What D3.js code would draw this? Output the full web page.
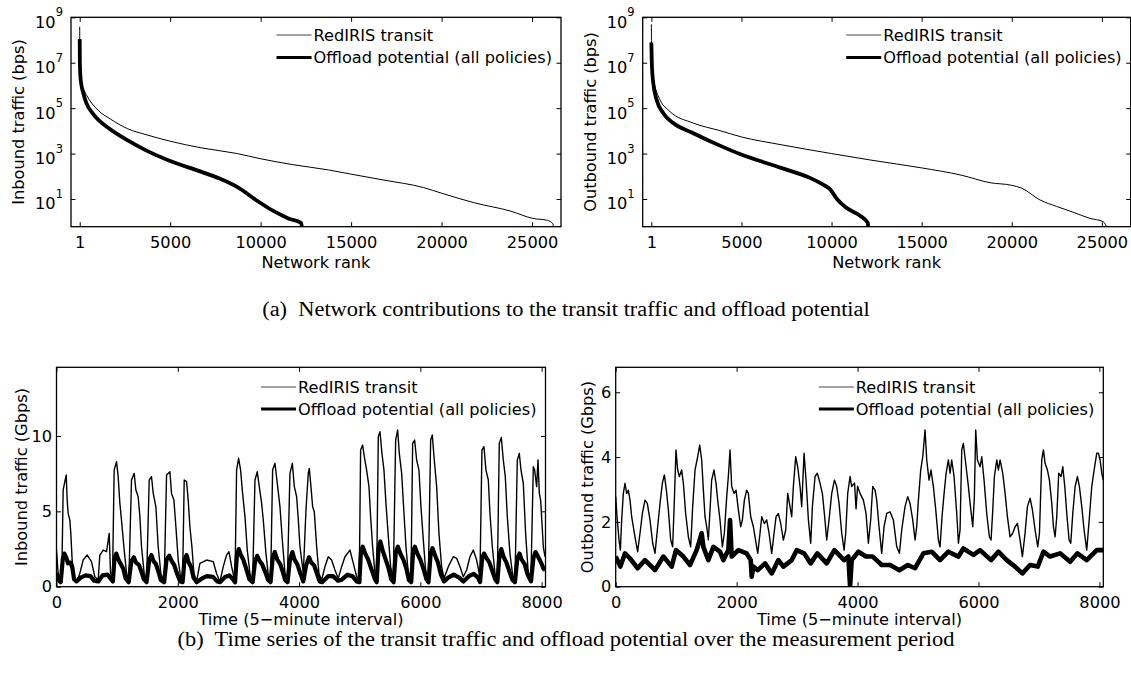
<!DOCTYPE html>
<html>
<head>
<meta charset="utf-8">
<script src="https://cdn.jsdelivr.net/npm/d3@7"></script>
<style>
  body { margin: 0; background: #fff; }
  svg { display: block; }
</style>
</head>
<body>
<svg id="fig" width="1131" height="677"></svg>
<script>
// ---------------- rank-ordered network contributions (bps) ----------------
const inTransitRank  = [1, 10, 40, 100, 250, 400, 1000, 1700, 2660, 3670, 5000, 6700, 8710, 9960, 11730, 13750, 14960, 16770, 18990, 20000, 21810, 23830, 25040, 25850, 26150, 26200];
const inTransitBps   = [3.8e8, 2e7, 4e6, 1.4e6, 6e5, 3.5e5, 8.3e4, 3.3e4, 1.23e4, 6.8e3, 3.5e3, 1.8e3, 1.0e3, 600, 330, 190, 126, 69, 32, 18, 6.8, 2.9, 1.4, 1.15, 0.81, 0.4];
const inOffloadRank  = [1, 10, 40, 100, 200, 370, 740, 1650, 2660, 3670, 5000, 6700, 7700, 8810, 9720, 10730, 11530, 12240, 12300];
const inOffloadBps   = [1.1e8, 1e7, 2.5e6, 1e6, 4.5e5, 1.66e5, 5.6e4, 1.23e4, 3.8e3, 1.38e3, 470, 160, 81, 30, 9.3, 2.9, 1.4, 0.87, 0.4];
const outTransitRank = [1, 15, 50, 100, 200, 477, 1032, 2327, 3807, 5000, 7200, 10000, 12200, 15000, 17200, 18800, 20000, 20550, 21565, 22490, 23413, 24340, 25078, 25300];
const outTransitBps  = [4.9e8, 1e7, 4e6, 2e6, 8.9e5, 2.34e5, 7.1e4, 2.2e4, 1.02e4, 5.4e3, 2.45e3, 1e3, 513, 234, 112, 52, 40, 30, 9.1, 4.7, 2.6, 1.4, 1.0, 0.5];
const outOffloadRank = [1, 33, 107, 292, 662, 1217, 2327, 3807, 4917, 7200, 8800, 9600, 9900, 10300, 10800, 11600, 12000, 12050];
const outOffloadBps  = [7.8e7, 6.8e6, 1.26e6, 2.34e5, 6e4, 2.2e4, 7.9e3, 2.24e3, 950, 234, 85, 40, 28, 10, 4.2, 1.8, 0.91, 0.5];

const rankTicks = [1, 5000, 10000, 15000, 20000, 25000];
const bpsTicks  = [1e1, 1e3, 1e5, 1e7, 1e9];

// ---------------- time series, [5-minute interval, Gbps] ----------------
const inTransitTS = [
  [0,2.43],[27,0.88],[55,0.33],[88,0.88],[110,6.42],[137,6.97],[160,7.41],[176,5.75],[192,4.87],[220,4.42],[236,3.54],[258,1.77],[286,0.66],
  [330,0.33],[385,0.88],[440,1.77],[506,2.10],[577,1.66],[632,0.66],[687,0.44],[715,2.10],[770,2.43],[825,2.32],[869,3.54],[891,0.88],[924,0.66],
  [951,7.74],[990,8.30],[1017,7.30],[1045,5.53],[1072,4.42],[1111,2.65],[1155,0.88],[1193,0.44],
  [1237,7.08],[1281,7.52],[1309,6.42],[1347,5.97],[1375,4.65],[1402,2.65],[1446,0.88],[1485,0.33],
  [1529,7.08],[1567,7.30],[1595,6.19],[1639,5.31],[1677,2.65],[1721,0.88],[1776,0.33],
  [1815,7.41],[1870,7.63],[1897,6.19],[1936,5.75],[1969,3.98],[2007,1.77],[2046,0.66],[2079,0.33],
  [2106,7.08],[2145,6.97],[2172,5.75],[2200,3.98],[2233,2.65],[2266,0.88],[2310,0.33],
  [2365,1.55],[2475,1.77],[2585,1.66],[2640,0.88],[2695,0.33],[2750,1.33],[2805,2.10],[2844,2.32],[2888,1.33],[2943,0.33],
  [2970,7.74],[3003,8.52],[3036,7.74],[3069,6.19],[3108,4.65],[3146,2.43],[3190,0.88],[3234,0.33],
  [3273,7.08],[3311,7.63],[3344,6.64],[3383,5.53],[3410,4.42],[3454,2.21],[3493,0.77],[3531,0.33],
  [3564,7.74],[3603,8.19],[3641,6.86],[3685,5.31],[3724,3.10],[3768,0.88],[3806,0.33],
  [3850,7.52],[3889,8.19],[3922,6.64],[3960,5.97],[3988,4.42],[4015,2.65],[4070,0.88],
  [4114,5.09],[4152,7.52],[4169,7.85],[4196,6.64],[4224,5.31],[4251,4.98],[4290,2.65],[4328,0.88],[4372,0.44],
  [4427,1.33],[4482,1.99],[4537,1.77],[4592,1.11],[4647,0.55],[4702,1.33],[4757,1.99],[4840,2.43],[4895,1.55],[4950,0.66],[4993,0.44],
  [5015,9.07],[5048,9.40],[5076,8.63],[5114,7.74],[5153,6.64],[5180,4.65],[5213,2.65],[5252,0.88],[5279,0.44],
  [5307,9.96],[5334,10.29],[5367,8.85],[5400,7.74],[5433,5.53],[5472,3.32],[5510,1.33],[5554,0.55],
  [5593,9.73],[5626,10.40],[5653,8.85],[5692,7.52],[5730,4.87],[5763,2.65],[5802,0.88],[5846,0.44],
  [5873,9.51],[5906,9.73],[5939,8.41],[5977,7.74],[6010,5.31],[6049,3.10],[6087,1.11],[6131,0.44],
  [6170,9.73],[6197,10.07],[6230,8.41],[6269,6.64],[6307,3.54],[6351,1.33],[6390,0.55],
  [6461,1.33],[6544,1.99],[6599,1.88],[6654,1.33],[6709,0.66],[6764,1.11],[6818,1.99],[6873,2.43],[6928,1.77],[6983,0.66],
  [7016,9.07],[7049,9.29],[7082,7.74],[7121,7.08],[7148,4.87],[7187,2.65],[7231,0.88],[7269,0.44],
  [7302,9.51],[7335,9.91],[7368,8.41],[7401,7.30],[7434,4.65],[7478,2.21],[7522,0.77],[7561,0.44],
  [7599,8.41],[7632,8.85],[7660,7.74],[7698,6.86],[7736,3.54],[7780,0.88],[7824,0.66],
  [7863,7.96],[7885,7.74],[7918,6.64],[7940,8.41],[7962,6.19],[7984,5.75],[8028,2.65],[8055,1.99]
];

const inOffloadTS = [
  [0,0.9],[30,0.45],[70,0.3],[105,1.9],[130,2.2],[165,1.9],[190,1.55],[230,1.6],[260,1.3],[290,0.5],[330,0.35],
  [400,0.6],[480,0.75],[560,0.7],[620,0.4],[690,0.35],[760,0.75],[840,0.8],[880,0.6],[930,0.35],
  [955,1.8],[985,2.2],[1020,1.8],[1060,1.5],[1100,1.2],[1140,0.55],[1190,0.3],
  [1235,1.7],[1275,1.95],[1310,1.6],[1360,1.45],[1400,1.0],[1440,0.5],[1485,0.3],
  [1530,1.8],[1565,2.1],[1600,1.7],[1640,1.5],[1680,1.0],[1720,0.45],[1775,0.3],
  [1815,1.8],[1860,2.05],[1900,1.7],[1940,1.45],[1985,0.9],[2040,0.35],[2080,0.3],
  [2110,1.8],[2145,2.1],[2180,1.6],[2220,1.3],[2260,0.6],[2310,0.3],
  [2400,0.55],[2480,0.7],[2580,0.65],[2650,0.35],[2700,0.3],[2780,0.65],[2850,0.75],[2900,0.55],[2945,0.3],
  [2975,2.1],[3005,2.5],[3040,2.1],[3080,1.8],[3120,1.3],[3180,0.5],[3235,0.3],
  [3275,1.7],[3310,2.05],[3350,1.7],[3390,1.5],[3440,1.0],[3490,0.45],[3530,0.3],
  [3565,1.9],[3600,2.3],[3640,1.8],[3690,1.5],[3730,1.0],[3770,0.45],[3810,0.3],
  [3850,1.8],[3890,2.3],[3925,1.8],[3970,1.5],[4020,0.9],[4070,0.35],
  [4115,1.4],[4165,1.95],[4200,1.6],[4250,1.4],[4300,0.8],[4340,0.35],[4380,0.3],
  [4480,0.7],[4560,0.7],[4640,0.4],[4700,0.45],[4800,0.8],[4880,0.7],[4950,0.35],[4995,0.3],
  [5020,2.3],[5050,2.65],[5090,2.2],[5140,1.8],[5190,1.2],[5250,0.5],[5280,0.3],
  [5310,2.5],[5340,3.0],[5380,2.4],[5420,1.9],[5470,1.3],[5520,0.5],[5560,0.3],
  [5595,2.3],[5630,2.65],[5670,2.2],[5720,1.8],[5770,1.2],[5810,0.45],[5850,0.3],
  [5880,2.3],[5910,2.65],[5950,2.2],[6000,1.8],[6050,1.2],[6100,0.5],[6135,0.3],
  [6170,2.2],[6200,2.55],[6240,2.1],[6290,1.6],[6340,0.8],[6390,0.35],
  [6460,0.6],[6550,0.8],[6640,0.6],[6710,0.35],[6800,0.7],[6880,0.85],[6950,0.6],[6985,0.3],
  [7020,1.9],[7050,2.2],[7090,1.9],[7140,1.6],[7190,1.0],[7240,0.45],[7270,0.3],
  [7305,2.1],[7335,2.5],[7370,2.0],[7420,1.6],[7470,1.0],[7520,0.45],[7560,0.3],
  [7600,1.9],[7635,2.2],[7670,1.8],[7720,1.5],[7770,0.8],[7825,0.35],
  [7865,1.9],[7900,2.3],[7940,2.0],[7990,1.6],[8030,1.2],[8060,1.1]
];

const outTransitTS = [
  [0,2.78],[22,2.16],[55,1.44],[77,1.13],[99,2.06],[126,2.88],[154,3.19],[181,2.88],[209,2.98],[237,2.67],[264,2.16],[319,1.54],[363,1.08],
  [402,1.65],[441,2.26],[485,2.67],[523,2.57],[567,2.06],[612,1.34],[650,1.03],[694,1.85],[733,2.57],[771,3.19],[805,3.45],[838,2.98],[871,2.37],
  [909,1.44],[942,1.23],[970,2.67],[997,4.22],[1025,3.60],[1053,3.40],[1091,3.60],[1119,3.19],[1157,2.26],[1202,1.54],[1240,1.23],
  [1273,2.47],[1312,3.60],[1356,4.01],[1389,4.37],[1422,3.91],[1450,2.98],[1477,2.16],[1505,1.85],[1532,1.44],
  [1560,2.37],[1587,3.29],[1626,3.60],[1659,3.19],[1687,2.67],[1725,2.06],[1764,1.23],[1797,1.65],[1836,2.78],[1863,3.40],[1891,4.22],
  [1918,3.09],[1957,2.88],[1990,2.98],[2029,2.37],[2067,1.85],[2095,2.06],[2128,2.67],[2166,2.98],[2194,2.88],[2233,2.16],[2277,1.85],
  [2304,1.54],[2349,1.03],[2387,1.65],[2415,2.16],[2459,1.95],[2497,2.06],[2536,1.65],[2580,1.03],[2619,1.65],[2652,2.16],[2690,2.26],
  [2729,1.95],[2773,1.44],[2812,1.75],[2845,2.88],[2883,2.47],[2911,2.16],[2938,3.09],[2977,4.01],[3010,3.70],[3049,3.09],[3076,2.47],
  [3115,4.12],[3148,3.29],[3187,2.06],[3225,1.34],[3253,2.47],[3297,3.40],[3335,3.50],[3380,3.19],[3418,2.88],[3451,2.26],[3490,1.44],
  [3528,2.06],[3573,2.88],[3617,3.29],[3655,3.09],[3694,2.57],[3738,1.65],[3777,1.13],[3804,1.65],[3837,2.88],[3876,3.40],[3903,3.09],
  [3950,3.2],[3975,2.4],[4000,3.1],[4041,2.88],[4096,2.67],[4140,2.26],[4179,1.34],[4217,2.06],[4251,3.09],[4289,2.98],[4317,2.67],
  [4355,1.85],[4399,1.03],[4438,1.85],[4482,2.26],[4537,2.31],[4592,2.06],[4648,1.23],[4692,1.03],[4730,1.75],[4785,2.47],[4830,2.78],
  [4868,2.57],[4912,2.06],[4951,1.44],[4978,1.85],[5006,2.67],[5044,3.60],[5078,4.01],[5116,4.84],[5144,3.91],[5182,3.29],[5215,3.60],
  [5254,3.09],[5293,2.37],[5337,1.44],[5364,1.23],[5397,2.16],[5431,2.88],[5464,3.50],[5502,3.91],[5530,3.50],[5557,3.91],[5596,3.40],
  [5640,2.26],[5668,1.34],[5695,1.75],[5723,4.22],[5750,4.42],[5795,3.70],[5833,3.09],[5861,2.57],[5905,1.85],[5932,2.78],[5954,4.84],
  [5982,3.91],[6026,3.70],[6054,4.01],[6092,3.29],[6136,2.26],[6180,1.54],[6208,1.44],[6236,2.37],[6263,3.40],[6302,3.91],[6329,3.60],
  [6357,3.91],[6401,3.50],[6440,2.88],[6478,2.16],[6522,1.54],[6566,1.65],[6605,1.85],[6644,1.95],[6688,1.44],[6726,0.93],[6770,1.65],
  [6809,2.47],[6853,2.73],[6892,2.37],[6936,1.75],[6980,1.23],[7008,1.65],[7046,3.91],[7074,4.22],[7101,3.81],[7140,3.60],[7173,3.29],
  [7212,2.57],[7239,1.85],[7267,1.54],[7294,2.16],[7327,3.50],[7366,3.40],[7394,3.70],[7427,3.09],[7460,2.26],[7498,1.44],[7526,1.34],
  [7559,2.26],[7598,3.09],[7636,3.40],[7669,3.09],[7708,2.47],[7746,1.75],[7790,1.13],[7835,2.16],[7873,3.09],[7912,3.60],[7956,4.12],
  [7984,4.12],[8011,3.91],[8039,3.50],[8064,3.29]
];

const outOffloadTS = [
  [0,0.93],[77,0.62],[154,1.03],[237,0.87],[363,0.57],[485,0.82],[650,0.51],[788,0.93],[926,0.62],[997,1.13],[1119,0.93],[1229,0.67],
  [1339,1.13],[1389,1.44],[1422,1.65],[1450,1.23],[1532,0.82],[1615,1.23],[1725,1.08],[1780,0.82],[1863,1.13],[1891,2.06],[1918,0.93],
  [2029,1.13],[2166,1.03],[2233,0.82],[2249,0.31],[2277,0.62],[2349,0.51],[2470,0.72],[2580,0.41],[2690,0.82],[2773,0.62],[2911,0.82],
  [2994,1.13],[3115,1.03],[3225,0.72],[3335,1.03],[3490,0.72],[3617,1.13],[3777,0.82],[3848,0.93],[3876,0.0],[3903,0.82],[4014,1.08],
  [4140,0.93],[4251,0.93],[4399,0.67],[4537,0.67],[4692,0.51],[4830,0.67],[4951,0.57],[5089,1.03],[5226,1.08],[5364,0.82],[5502,1.08],
  [5668,0.93],[5750,1.18],[5916,0.98],[6026,1.13],[6208,0.82],[6329,1.08],[6467,0.82],[6605,0.62],[6726,0.41],[6853,0.67],[6980,0.62],
  [7074,1.08],[7184,0.93],[7349,1.03],[7515,0.77],[7636,1.03],[7790,0.82],[7956,1.13],[8064,1.13]
];

const timeTicks = [0, 2000, 4000, 6000, 8000];
const inGbpsTicks = [0, 5, 10];
const outGbpsTicks = [0, 2, 4, 6];

const seriesNames = ["RedIRIS transit", "Offload potential (all policies)"];

// ---------------- drawing ----------------
const svg = d3.select("#fig");
svg.append("rect").attr("width", 1131).attr("height", 677).attr("fill", "#fff");
const defs = svg.append("defs");

const SANS = '"DejaVu Sans", "Liberation Sans", Arial, sans-serif';
const SERIF = '"Liberation Serif", "Times New Roman", serif';
const FS = 16.2;
const TICK = 4.5;

function styleAxis(g) {
  g.select(".domain").remove();
  g.selectAll(".tick line").attr("stroke", "#000").attr("stroke-width", 1);
  g.selectAll(".tick text").attr("fill", "#000").attr("font-family", SANS).attr("font-size", FS);
}

function drawPanel(p) {
  const [x0, x1] = p.x.range();
  const [y0, y1] = p.y.range(); // y0 bottom, y1 top
  const g = svg.append("g");
  defs.append("clipPath").attr("id", p.id).append("rect")
    .attr("x", x0).attr("y", y1).attr("width", x1 - x0).attr("height", y0 - y1);

  const plot = g.append("g").attr("clip-path", `url(#${p.id})`);
  const line = d3.line().x(d => p.x(d[0])).y(d => p.y(d[1])).curve(p.curve || d3.curveLinear);
  p.series.forEach(s => {
    plot.append("path").datum(s.data).attr("d", line)
      .attr("fill", "none").attr("stroke", "#000")
      .attr("stroke-width", s.width).attr("stroke-linejoin", "round");
  });

  const bottom = g.append("g").attr("transform", `translate(0,${y0})`)
    .call(d3.axisBottom(p.x).tickValues(p.xTicks).tickFormat(d3.format("d")).tickSize(-TICK).tickPadding(9.4));
  styleAxis(bottom);
  const top = g.append("g").attr("transform", `translate(0,${y1})`)
    .call(d3.axisTop(p.x).tickValues(p.xTicks).tickFormat("").tickSize(-TICK));
  styleAxis(top);
  const left = g.append("g").attr("transform", `translate(${x0},0)`)
    .call(d3.axisLeft(p.y).tickValues(p.yTicks).tickFormat(p.log ? (() => "") : d3.format("d"))
      .tickSize(-TICK).tickPadding(p.log ? 8 : 4.5));
  styleAxis(left);
  if (p.log) {
    left.selectAll(".tick text").each(function (d) {
      const t = d3.select(this);
      t.attr("dy", null).text(null);
      t.append("tspan").attr("dy", "0.61em").text("10");
      t.append("tspan").attr("dy", -11.3).attr("font-size", 11.5).text(Math.round(Math.log10(d)));
    });
  }
  const right = g.append("g").attr("transform", `translate(${x1},0)`)
    .call(d3.axisRight(p.y).tickValues(p.yTicks).tickFormat("").tickSize(-TICK));
  styleAxis(right);

  g.append("rect").attr("x", x0).attr("y", y1).attr("width", x1 - x0).attr("height", y0 - y1)
    .attr("fill", "none").attr("stroke", "#000").attr("stroke-width", 1.3);

  // axis titles
  g.append("text").attr("x", (x0 + x1) / 2).attr("y", p.xTitleY)
    .attr("text-anchor", "middle").attr("font-family", SANS).attr("font-size", FS).text(p.xTitle);
  g.append("text").attr("transform", `translate(${p.yTitleX},${(y0 + y1) / 2}) rotate(-90)`)
    .attr("dy", "0.36em").attr("text-anchor", "middle").attr("font-family", SANS).attr("font-size", FS).text(p.yTitle);

  // legend, right-aligned inside the box
  const lg = g.append("g");
  const labels = seriesNames.map((name, i) => lg.append("text")
    .attr("y", p.legendY[i]).attr("dy", "0.36em")
    .attr("font-family", SANS).attr("font-size", FS).text(name));
  const wMax = d3.max(labels, t => t.node().getComputedTextLength());
  const tx = x1 - 9 - wMax;
  labels.forEach(t => t.attr("x", tx));
  [1, 3].forEach((w, i) => {
    lg.append("line").attr("x1", tx - 37).attr("x2", tx - 2)
      .attr("y1", p.legendY[i]).attr("y2", p.legendY[i])
      .attr("stroke", i === 0 ? "#444" : "#000").attr("stroke-width", w);
  });
}

const rankDomain = [-480, 26600];
const logDomain = [Math.pow(10, -0.22), 1e9];
const zip = (a, b) => a.map((v, i) => [v, b[i]]);

drawPanel({
  id: "clipA1",
  x: d3.scaleLinear().domain(rankDomain).range([71, 561]),
  y: d3.scaleLog().domain(logDomain).range([226.7, 17.3]),
  log: true, xTicks: rankTicks, yTicks: bpsTicks, curve: d3.curveMonotoneX,
  series: [{ data: zip(inTransitRank, inTransitBps), width: 1 },
           { data: zip(inOffloadRank, inOffloadBps), width: 3.8 }],
  xTitle: "Network rank", xTitleY: 268.3,
  yTitle: "Inbound traffic (bps)", yTitleX: 18.5,
  legendY: [35, 57.5]
});

drawPanel({
  id: "clipA2",
  x: d3.scaleLinear().domain(rankDomain).range([642.7, 1130.7]),
  y: d3.scaleLog().domain(logDomain).range([226.7, 17.3]),
  log: true, xTicks: rankTicks, yTicks: bpsTicks, curve: d3.curveMonotoneX,
  series: [{ data: zip(outTransitRank, outTransitBps), width: 1 },
           { data: zip(outOffloadRank, outOffloadBps), width: 3.8 }],
  xTitle: "Network rank", xTitleY: 268.3,
  yTitle: "Outbound traffic (bps)", yTitleX: 590,
  legendY: [35, 57.5]
});

drawPanel({
  id: "clipB1",
  x: d3.scaleLinear().domain([0, 8064]).range([56.5, 545.5]),
  y: d3.scaleLinear().domain([0, 14.56]).range([586.7, 367.3]),
  log: false, xTicks: timeTicks, yTicks: inGbpsTicks,
  series: [{ data: inTransitTS, width: 1.4 },
           { data: inOffloadTS, width: 4.2 }],
  xTitle: "Time (5\u2212minute interval)", xTitleY: 625,
  yTitle: "Inbound traffic (Gbps)", yTitleX: 21,
  legendY: [387, 409]
});

drawPanel({
  id: "clipB2",
  x: d3.scaleLinear().domain([0, 8064]).range([615.7, 1103.3]),
  y: d3.scaleLinear().domain([0, 6.77]).range([586.7, 367.3]),
  log: false, xTicks: timeTicks, yTicks: outGbpsTicks,
  series: [{ data: outTransitTS, width: 1.4 },
           { data: outOffloadTS, width: 4.6 }],
  xTitle: "Time (5\u2212minute interval)", xTitleY: 625,
  yTitle: "Outbound traffic (Gbps)", yTitleX: 587,
  legendY: [387, 409]
});

// sub-figure captions
function caption(txt, baseline) {
  const t = svg.append("text").attr("x", 566).attr("y", baseline)
    .attr("text-anchor", "middle").style("white-space", "pre")
    .attr("font-family", SERIF).attr("font-size", 20).text(txt);
  const w = t.node().getComputedTextLength();
  t.attr("textLength", w * 1.12).attr("lengthAdjust", "spacingAndGlyphs");
}
caption("(a)  Network contributions to the transit traffic and offload potential", 316);
caption("(b)  Time series of the transit traffic and offload potential over the measurement period", 646);
</script>
</body>
</html>
